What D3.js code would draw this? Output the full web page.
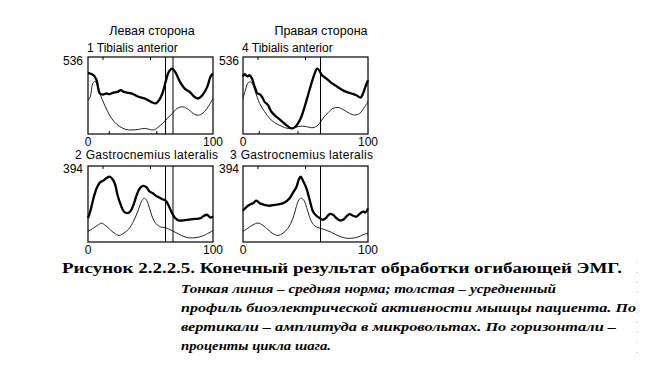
<!DOCTYPE html>
<html>
<head>
<meta charset="utf-8">
<script src="https://cdn.jsdelivr.net/npm/d3@7"></script>
<style>
  body { margin: 0; background: #fff; }
  svg { display: block; }
</style>
</head>
<body>
<script>
// EMG envelope curves, [percent of gait cycle, microvolts]
var tibLeftThick = [[0,425],[4.4,409],[6.9,374],[8.2,316],[9.5,282],[12.1,275],[14.6,282],[17.2,277],[19.7,286],[23.6,293],[26.2,305],[28.7,293],[32.6,286],[36.4,277],[40.3,259],[45.4,247],[50.5,224],[54.4,213],[56.9,236],[59.5,282],[62.1,363],[64.6,432],[67.2,455],[69.7,432],[73.6,363],[77.4,316],[81.3,293],[85.1,259],[87.7,247],[91.5,270],[95.4,328],[97.9,397],[100,420]];
var tibLeftThin = [[0,236],[1.8,259],[3.8,351],[5.6,367],[7.4,340],[9.5,282],[13.3,201],[17.2,132],[21,85],[24.9,55],[30,32],[35.1,28],[40.3,32],[45.4,39],[49.2,32],[52.6,28],[55.9,46],[59.7,74],[63.6,109],[67.4,143],[71.3,178],[75.9,189],[80.3,171],[85.4,136],[89.2,132],[93.1,155],[96.9,201],[100,247]];
var tibRightThick = [[0,402],[1.3,416],[3.5,402],[5.3,409],[7.2,386],[8.5,351],[9.9,316],[11.5,282],[13.3,277],[15.2,259],[17.3,224],[20,201],[22.7,155],[26.7,120],[30.7,92],[34.7,62],[38.7,39],[41.3,46],[44,74],[46.7,120],[49.3,189],[52,270],[54.7,351],[57.3,420],[59.2,455],[61.3,439],[63.2,409],[66.7,386],[70.7,356],[74.7,333],[78.7,310],[82.7,293],[86.7,282],[90.7,270],[94.1,254],[96,282],[97.9,328],[100,374]];
var tibRightThin = [[0,247],[1.9,305],[4,356],[6.1,363],[8,340],[9.9,293],[13.3,213],[17.3,155],[21.3,109],[25.3,79],[30.7,55],[36,39],[41.3,46],[46.7,55],[50.7,51],[56,44],[60,62],[64,109],[68,148],[72,178],[76,185],[80,171],[85.3,143],[89.3,132],[93.3,143],[97.3,189],[100,224]];
var gasLeftThick = [[0,124],[1.8,158],[4.4,227],[6.9,279],[9.5,308],[12.1,318],[14.6,330],[17.2,339],[19.7,325],[21.8,296],[23.6,244],[26.2,193],[28.7,158],[31.3,150],[33.8,158],[36.4,193],[39,244],[41.5,279],[44.1,291],[46.7,284],[49.2,262],[51.8,253],[54.4,239],[56.9,231],[59.5,222],[62.1,215],[64.6,188],[67.2,150],[69.7,124],[72.3,112],[76.2,112],[80,115],[83.8,119],[87.7,120],[90.3,124],[92.8,136],[95.4,141],[97.9,127],[100,132]];
var gasLeftThin = [[0,55],[4.4,72],[8.2,89],[10.8,98],[13.3,89],[17.2,67],[21,46],[24.9,34],[28.7,46],[32.6,67],[36.4,107],[40.3,167],[42.8,210],[44.9,227],[46.7,219],[49.2,175],[51.8,124],[54.4,95],[58.2,77],[60.8,76],[64.6,67],[68.5,55],[73.6,38],[78.7,24],[83.8,21],[88.9,26],[94,38],[100,60]];
var gasRightThick = [[0,163],[2.7,181],[5.3,193],[8,201],[10.7,215],[13.3,201],[17.3,193],[21.3,188],[25.3,193],[29.3,196],[33.3,205],[37.3,227],[40,256],[42.7,284],[44.5,322],[46.1,339],[48,318],[50.7,279],[53.3,219],[56,158],[58.7,136],[61.3,124],[64,115],[66.7,127],[69.3,145],[72,141],[74.7,124],[77.3,112],[80,115],[82.7,132],[85.3,145],[88,136],[90.7,132],[93.3,146],[96,158],[97.9,153],[100,174]];
var gasRightThin = [[0,55],[4,72],[8,89],[12,98],[16,86],[20,64],[24,43],[28,34],[32,46],[36,72],[40,124],[42.7,184],[44.8,219],[46.7,227],[48.8,215],[51.5,167],[54.1,115],[57.3,84],[61.3,72],[65.3,64],[70.7,50],[76,33],[81.3,21],[86.7,19],[92,26],[96,38],[100,46]];

var maxTib = 536, maxGas = 394;
var xTicks = [0, 100];
var captionText = "Рисунок  2.2.2.5. Конечный результат обработки огибающей ЭМГ.";
var noteLines = [
  "Тонкая линия – средняя норма; толстая – усредненный",
  "профиль биоэлектрической активности мышцы пациента. По",
  "вертикали – амплитуда в микровольтах. По горизонтали –",
  "проценты цикла шага."
];

var W = 660, H = 372;
var svg = d3.select("body").append("svg")
  .attr("width", W)
  .attr("height", H);

var sans = "'Liberation Sans', Arial, Helvetica, sans-serif";
var serif = "'Liberation Serif', 'Times New Roman', serif";
var fs = "12px";

var panels = [
  {title: "1 Tibialis anterior", tx: 87, ty: 51.5, max: maxTib, thick: tibLeftThick, thin: tibLeftThin,
   x0: 88, x1: 213, y0: 57, y1: 134, marks: [62, 68], topTicks: [12, 50], botTicks: [17, 55],
   maxX: 83, maxY: 64.5},
  {title: "4 Tibialis anterior", tx: 242, ty: 51.5, max: maxTib, thick: tibRightThick, thin: tibRightThin,
   x0: 243, x1: 368, y0: 57, y1: 134, marks: [62], topTicks: [12, 50], botTicks: [13, 44],
   maxX: 239, maxY: 64.5},
  {title: "2 Gastrocnemius lateralis", tx: 75, ty: 159, max: maxGas, thick: gasLeftThick, thin: gasLeftThin,
   x0: 88, x1: 213, y0: 166, y1: 242, marks: [62, 68], topTicks: [12, 50], botTicks: [],
   maxX: 83, maxY: 172.5},
  {title: "3 Gastrocnemius lateralis", tx: 230, ty: 159, max: maxGas, thick: gasRightThick, thin: gasRightThin,
   x0: 243, x1: 368, y0: 166, y1: 242, marks: [62], topTicks: [12, 50], botTicks: [],
   maxX: 239, maxY: 172.5}
];

// side headers
svg.append("text")
  .attr("x", 152).attr("y", 35)
  .attr("text-anchor", "middle")
  .style("font-family", sans).style("font-size", "12.5px")
  .text("Левая сторона");
svg.append("text")
  .attr("x", 321).attr("y", 35)
  .attr("text-anchor", "middle")
  .style("font-family", sans).style("font-size", "12.5px")
  .text("Правая сторона");

panels.forEach(function(p) {
  var x = d3.scaleLinear().domain([0, 100]).range([p.x0, p.x1]);
  var y = d3.scaleLinear().domain([0, p.max]).range([p.y1, p.y0]);
  var g = svg.append("g");

  var line = d3.line()
    .x(function(d) { return x(d[0]); })
    .y(function(d) { return y(d[1]); })
    .curve(d3.curveCatmullRom.alpha(0.5));

  g.append("path")
    .datum(p.thin)
    .attr("d", line)
    .attr("fill", "none")
    .attr("stroke", "#222")
    .attr("stroke-width", 1);

  g.append("path")
    .datum(p.thick)
    .attr("d", line)
    .attr("fill", "none")
    .attr("stroke", "#000")
    .attr("stroke-width", 2.3)
    .attr("stroke-linejoin", "round");

  // stance / swing markers
  g.selectAll(".mark")
    .data(p.marks)
    .enter().append("line")
    .attr("x1", function(d) { return x(d); })
    .attr("x2", function(d) { return x(d); })
    .attr("y1", p.y0).attr("y2", p.y1)
    .attr("stroke", "#000").attr("stroke-width", 1);

  g.selectAll(".tt")
    .data(p.topTicks)
    .enter().append("line")
    .attr("x1", function(d) { return x(d); })
    .attr("x2", function(d) { return x(d); })
    .attr("y1", p.y0).attr("y2", p.y0 + 3)
    .attr("stroke", "#000");

  g.selectAll(".bt")
    .data(p.botTicks)
    .enter().append("line")
    .attr("x1", function(d) { return x(d); })
    .attr("x2", function(d) { return x(d); })
    .attr("y1", p.y1).attr("y2", p.y1 - 3)
    .attr("stroke", "#000");

  g.append("rect")
    .attr("x", p.x0).attr("y", p.y0)
    .attr("width", p.x1 - p.x0).attr("height", p.y1 - p.y0)
    .attr("fill", "none").attr("stroke", "#000").attr("stroke-width", 1.2);

  g.selectAll(".xl")
    .data(xTicks)
    .enter().append("text")
    .attr("x", function(d) { return x(d); })
    .attr("y", p.y1 + 12)
    .attr("text-anchor", "middle")
    .style("font-family", sans).style("font-size", fs)
    .text(function(d) { return d; });

  g.append("text")
    .attr("x", p.maxX).attr("y", p.maxY)
    .attr("text-anchor", "end")
    .style("font-family", sans).style("font-size", fs)
    .text(p.max);

  g.append("text")
    .attr("x", p.tx).attr("y", p.ty)
    .attr("textLength", p.max === maxGas ? 143 : null)
    .style("font-family", sans).style("font-size", fs)
    .text(p.title);
});

// caption
svg.append("text")
  .attr("x", 62).attr("y", 273)
  .attr("textLength", 560)
  .attr("lengthAdjust", "spacingAndGlyphs")
  .style("font-family", serif).style("font-size", "15px")
  .style("font-weight", "bold")
  .text(captionText);

var noteWidths = [375, 455, 435, 150];
svg.selectAll(".note")
  .data(noteLines)
  .enter().append("text")
  .attr("x", 181)
  .attr("y", function(d, i) { return 293 + i * 19; })
  .attr("textLength", function(d, i) { return noteWidths[i]; })
  .attr("lengthAdjust", "spacingAndGlyphs")
  .style("font-family", serif).style("font-size", "12.5px")
  .style("font-weight", "bold").style("font-style", "italic")
  .text(function(d) { return d; });

// faint scan dots at right margin
svg.append("line")
  .attr("x1", 637).attr("x2", 637)
  .attr("y1", 262).attr("y2", 362)
  .attr("stroke", "#bbb").attr("stroke-width", 1)
  .attr("stroke-dasharray", "1,9");
</script>
</body>
</html>
